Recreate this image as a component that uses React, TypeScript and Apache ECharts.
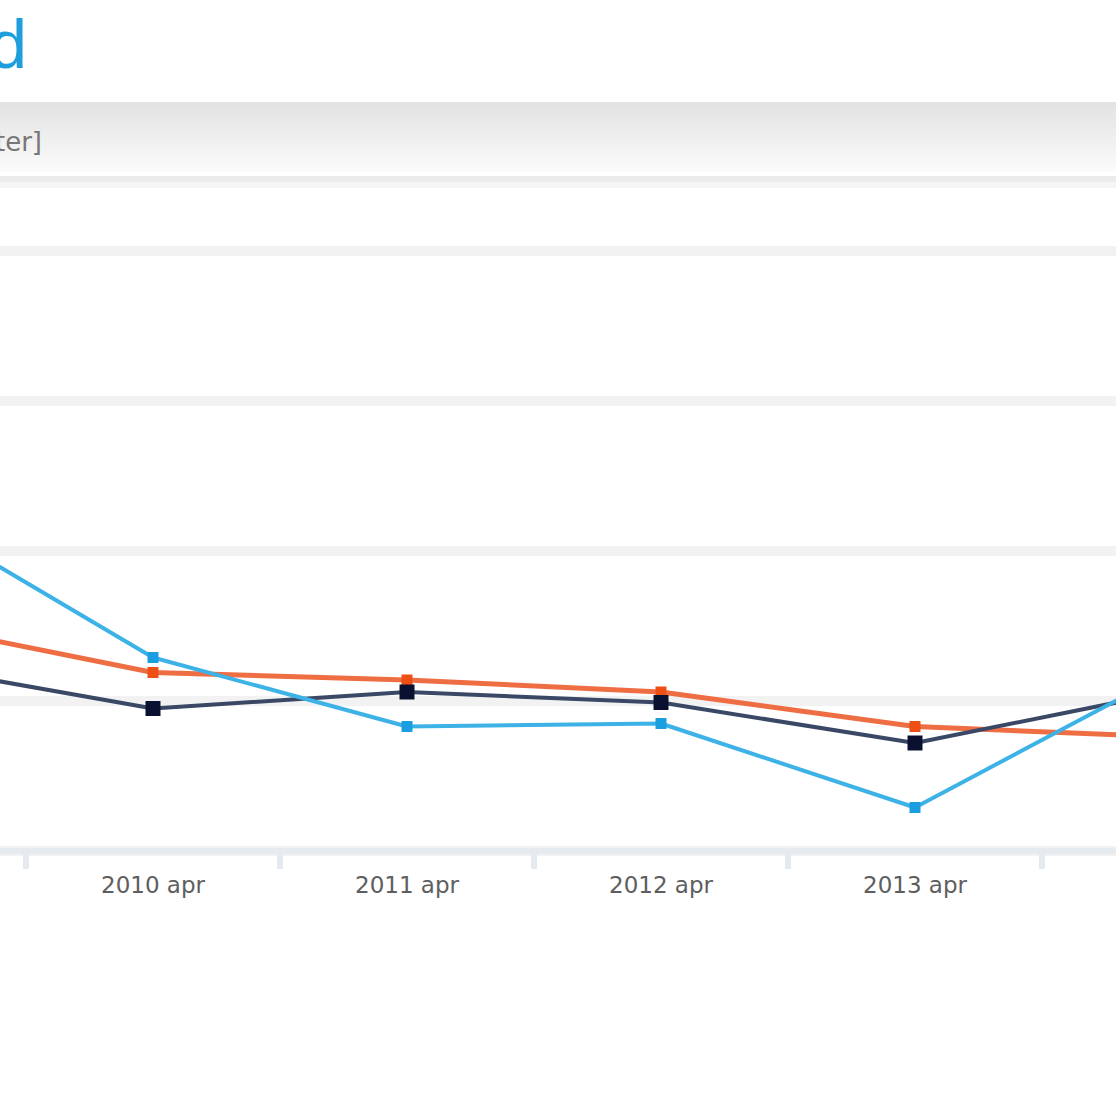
import React, { useEffect, useRef } from "react";
import * as echarts from "echarts";

const categories = ["2009 apr", "2010 apr", "2011 apr", "2012 apr", "2013 apr", "2014 apr"];
const seriesOrange = [153, 119, 114, 106, 83, 76];
const seriesNavy = [125, 95, 106, 99, 72, 106];
const seriesBlue = [229, 129, 83, 85, 29, 119];
const titleText = "Gemiddeld";
const subtitleText = "[prijs per liter]";

const OFFSET = 300; // how far the chart extends beyond the left edge of the page

export default function App() {
  const ref = useRef<HTMLDivElement>(null);
  useEffect(() => {
    if (!ref.current) return;
    const chart = echarts.init(ref.current, null, { renderer: "svg" });
    const mk = (name: string, data: number[], color: string, marker: string, w: number, size: number) => ({
      name,
      type: "line",
      data,
      symbol: "rect",
      symbolSize: size,
      showSymbol: true,
      clip: true,
      lineStyle: { color, width: w },
      itemStyle: { color: marker },
    });
    chart.setOption({
      animation: false,
      backgroundColor: "#ffffff",
      grid: { left: 72, right: 120, top: 251, bottom: 265 },
      xAxis: {
        type: "category",
        data: categories,
        boundaryGap: true,
        axisLine: { show: true, lineStyle: { color: "#e6ebf0", width: 6 } },
        axisTick: { show: true, length: 18, lineStyle: { color: "#e4eaf0", width: 6 } },
        axisLabel: { color: "#5e5e5e", fontSize: 23, fontFamily: "DejaVu Sans", margin: 22 },
        splitLine: { show: false },
      },
      yAxis: {
        type: "value",
        min: 0,
        max: 400,
        interval: 100,
        axisLine: { show: false },
        axisTick: { show: false },
        axisLabel: { show: false },
        splitLine: { show: true, lineStyle: { color: "#f2f2f2", width: 10 } },
      },
      graphic: [
        {
          type: "rect",
          left: 0,
          top: 102,
          shape: { width: 1800, height: 70 },
          style: {
            fill: new echarts.graphic.LinearGradient(0, 0, 0, 1, [
              { offset: 0, color: "#e2e2e2" },
              { offset: 1, color: "#fbfbfb" },
            ]),
          },
          silent: true,
        },
        { type: "rect", left: 0, top: 176, shape: { width: 1800, height: 6 }, style: { fill: "#ebebeb" }, silent: true },
        { type: "rect", left: 0, top: 182, shape: { width: 1800, height: 6 }, style: { fill: "#f5f5f5" }, silent: true },
        {
          type: "text",
          x: OFFSET + 42,
          y: 142,
          style: {
            text: subtitleText,
            fill: "#777",
            fontSize: 26,
            fontFamily: "DejaVu Sans",
            align: "right",
            verticalAlign: "middle",
          },
          silent: true,
        },
        {
          type: "text",
          x: OFFSET + 27,
          y: 44,
          style: {
            text: titleText,
            fill: "#1e9fdb",
            fontSize: 68,
            fontFamily: "Liberation Sans",
            align: "right",
            verticalAlign: "middle",
          },
          silent: true,
        },
      ],
      series: [
        mk("Oranje", seriesOrange, "#ef6d42", "#ee4f14", 5, 11),
        mk("Donker", seriesNavy, "#3a4866", "#0a1030", 4, 15),
        mk("Blauw", seriesBlue, "#3db2e6", "#1b9ee0", 4, 11),
      ],
    });
    return () => chart.dispose();
  }, []);
  return (
    <div
      style={{
        position: "fixed",
        left: 0,
        top: 0,
        width: 1116,
        height: 1116,
        overflow: "hidden",
        background: "#fff",
      }}
    >
      <div
        ref={ref}
        style={{ position: "absolute", left: -OFFSET, top: 0, width: 1116 + OFFSET + 300, height: 1116 }}
      />
    </div>
  );
}
